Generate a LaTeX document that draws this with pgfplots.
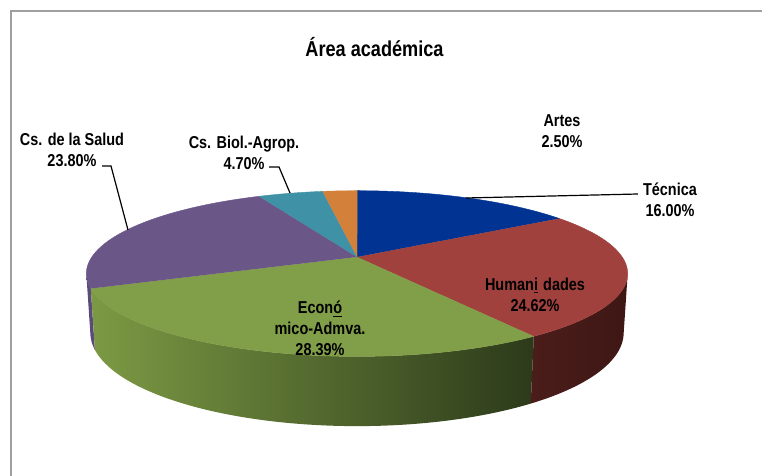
\documentclass[border=0pt]{standalone}
\usepackage{pgfplots}
\pgfplotsset{compat=1.18}
\usepackage{fontspec}
\setmainfont{Liberation Sans}[FakeStretch=0.84]
\definecolor{cTec}{RGB}{0,51,146}
\definecolor{cHum}{RGB}{160,65,62}
\definecolor{cEco}{RGB}{129,158,72}
\definecolor{cSal}{RGB}{107,86,136}
\definecolor{cBio}{RGB}{63,145,166}
\definecolor{cArt}{RGB}{210,128,58}
\definecolor{wEcoL}{RGB}{124,154,68}
\definecolor{wEcoR}{RGB}{44,58,26}
\definecolor{wHumL}{RGB}{74,29,26}
\definecolor{wHumR}{RGB}{62,23,21}
\definecolor{wSal}{RGB}{92,74,124}
% data (percent)
\def\vTec{16.00}
\def\vHum{24.62}
\def\vEco{28.39}
\def\vSal{23.80}
\def\vBio{4.70}
\def\vArt{2.50}
% cumulative angles (start at 12 o'clock, clockwise)
\pgfmathsetmacro\aA{90}
\pgfmathsetmacro\aB{\aA-3.6*\vTec}
\pgfmathsetmacro\aC{\aB-3.6*\vHum}
\pgfmathsetmacro\aD{\aC-3.6*\vEco}
\pgfmathsetmacro\aE{\aD-3.6*\vSal}
\pgfmathsetmacro\aF{\aE-3.6*\vBio}
\pgfmathsetmacro\aG{\aF-3.6*\vArt}
\newcommand\topslice[3]{%
\addplot[fill=#3, draw=#3, line width=0.2pt, domain=0:2, samples=201, variable=\s]
 ({px(#1+(#2-#1)*min(\s,1), min(1,2-\s), 0)},
  {py(#1+(#2-#1)*min(\s,1), min(1,2-\s), 0)});}
\newcommand\wall[4]{%
\addplot[draw=none, left color=#3, right color=#4, domain=0:3, samples=301, variable=\s]
 ({px(#1+(#2-#1)*min(\s,1)-(#2-#1)*max(\s-2,0), 1, -0.23*min(max(\s-1,0),1))},
  {py(#1+(#2-#1)*min(\s,1)-(#2-#1)*max(\s-2,0), 1, -0.23*min(max(\s-1,0),1))});}
\begin{document}
\begin{tikzpicture}
\begin{axis}[width=381pt, height=238pt, scale only axis,
  xmin=0, xmax=762, ymin=0, ymax=476, axis lines=none, clip=false,
  declare function={
    dd(\t,\r,\z) = 4.77 + \r*sin(\t)*0.954 - \z*0.3;
    px(\t,\r,\z) = 357 + 1265*\r*cos(\t)/dd(\t,\r,\z);
    py(\t,\r,\z) = 219 + 1265*(\r*sin(\t)*0.3 + \z*0.954)/dd(\t,\r,\z);
  }]
% frame
\draw[gray!75, line width=1pt] (axis cs:10.5,-20) |- (axis cs:800,464.5);
% walls
\wall{\aD}{-168}{wSal}{wSal}
\wall{\aC}{\aD}{wEcoL}{wEcoR}
\wall{-12}{\aC}{wHumL}{wHumR}
% top faces
\topslice{\aA}{\aB}{cTec}
\topslice{\aB}{\aC}{cHum}
\topslice{\aC}{\aD}{cEco}
\topslice{\aD}{\aE}{cSal}
\topslice{\aE}{\aF}{cBio}
\topslice{\aF}{\aG}{cArt}
% leader lines
\draw[black, line width=0.6pt] (axis cs:102,310) -- (axis cs:111,310) -- (axis cs:128,246);
\draw[black, line width=0.6pt] (axis cs:269,309) -- (axis cs:279,309) -- (axis cs:290,283);
\draw[black, line width=0.6pt] (axis cs:466,278) -- (axis cs:638,282);
% labels
\tikzset{lab/.style={align=center, font=\fontsize{8.6}{10.6}\selectfont\bfseries, inner sep=0pt}}
\node[font=\fontsize{10.8}{12}\selectfont\bfseries] at (axis cs:374.5,429) {Área académica};
\node[lab] at (axis cs:562,345) {Artes\\2.50\%};
\node[lab] at (axis cs:670,276) {Técnica\\16.00\%};
\node[lab] at (axis cs:72,326.5) {Cs. de la Salud\\23.80\%};
\node[lab] at (axis cs:244,323) {Cs. Biol.-Agrop.\\4.70\%};
\node[lab] at (axis cs:535,181.5) {Human\underline{i}\hspace{0.3em}dades\\24.62\%};
\node[lab] at (axis cs:320,148) {Econ\underline{ó}\\mico-Admva.\\28.39\%};
\end{axis}
\pgfresetboundingbox
\path (current axis.south west) rectangle (current axis.north east);
\end{tikzpicture}
\end{document}
